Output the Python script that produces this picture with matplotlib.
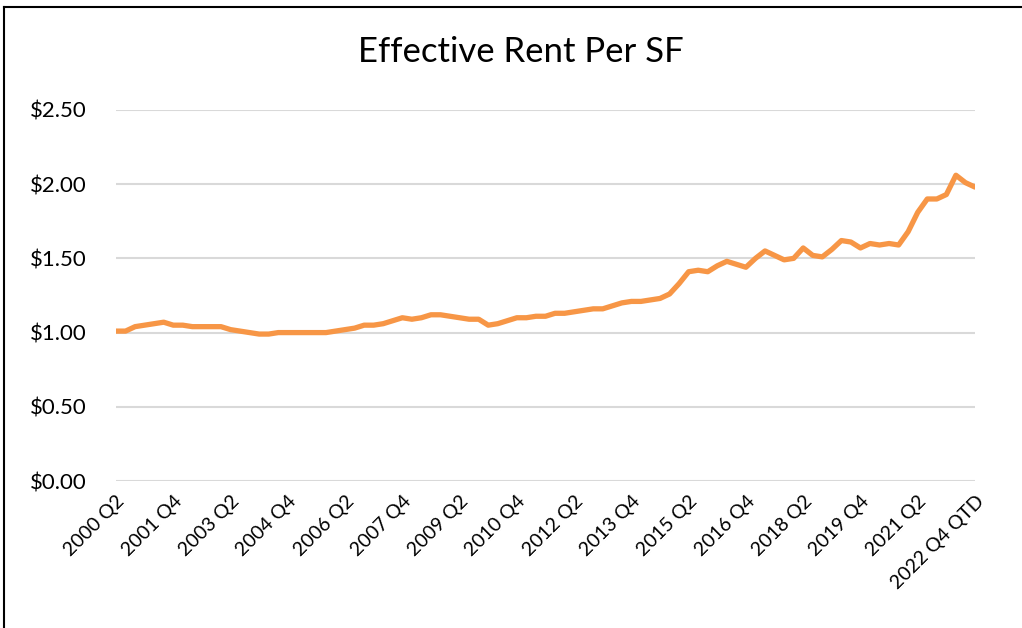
import matplotlib.pyplot as plt
from matplotlib.lines import Line2D
from matplotlib.ticker import FuncFormatter

# quarterly labels 2000 Q2 .. 2022 Q4 QTD
quarters = []
for yr in range(2000, 2023):
    for q in range(1, 5):
        if yr == 2000 and q < 2:
            continue
        quarters.append(f"{yr} Q{q}")
quarters[-1] = "2022 Q4 QTD"

rent = [1.01, 1.01, 1.04, 1.05, 1.06, 1.07, 1.05, 1.05, 1.04, 1.04,
        1.04, 1.04, 1.02, 1.01, 1.00, 0.99, 0.99, 1.00, 1.00, 1.00,
        1.00, 1.00, 1.00, 1.01, 1.02, 1.03, 1.05, 1.05, 1.06, 1.08,
        1.10, 1.09, 1.10, 1.12, 1.12, 1.11, 1.10, 1.09, 1.09, 1.05,
        1.06, 1.08, 1.10, 1.10, 1.11, 1.11, 1.13, 1.13, 1.14, 1.15,
        1.16, 1.16, 1.18, 1.20, 1.21, 1.21, 1.22, 1.23, 1.26, 1.33,
        1.41, 1.42, 1.41, 1.45, 1.48, 1.46, 1.44, 1.50, 1.55, 1.52,
        1.49, 1.50, 1.57, 1.52, 1.51, 1.56, 1.62, 1.61, 1.57, 1.60,
        1.59, 1.60, 1.59, 1.68, 1.81, 1.90, 1.90, 1.93, 2.06, 2.01,
        1.98]

yticks = [0, 0.5, 1.0, 1.5, 2.0, 2.5]

plt.rcParams['font.family'] = ['Lato', 'DejaVu Sans']

fig = plt.figure(figsize=(10.22, 6.28), dpi=100)
ax = fig.add_axes([0.1135, 0.234, 0.8405, 0.591])

x = list(range(len(rent)))
ax.plot(x, rent, color='#F79646', linewidth=3.8, solid_capstyle='round',
        solid_joinstyle='round', zorder=3)

ax.set_xlim(0, len(rent) - 1)
ax.set_ylim(0, 2.5)
ax.set_yticks(yticks)
ax.yaxis.set_major_formatter(FuncFormatter(lambda v, p: f"${v:.2f}"))
ax.grid(axis='y', color='#d9d9d9', linewidth=1.5, zorder=0)

tick_pos = list(range(0, len(rent), 6))
ax.set_xticks(tick_pos)
ax.set_xticklabels([quarters[i] for i in tick_pos], rotation=45,
                   ha='right', rotation_mode='anchor')

for s in ax.spines.values():
    s.set_visible(False)
ax.tick_params(axis='both', length=0, colors='black')
ax.tick_params(axis='y', labelsize=16, pad=21)
ax.tick_params(axis='x', labelsize=14, pad=8)

fig.text(0.51, 0.917, "Effective Rent Per SF", ha='center', va='center',
         fontsize=25)

# chart frame (left and top edges visible)
fig.add_artist(Line2D([0.004, 0.004], [0, 0.989], color='black', linewidth=1.5,
                      transform=fig.transFigure))
fig.add_artist(Line2D([0.004, 1.0], [0.989, 0.989], color='black', linewidth=1.5,
                      transform=fig.transFigure))

fig.savefig("out.png", dpi=100)
